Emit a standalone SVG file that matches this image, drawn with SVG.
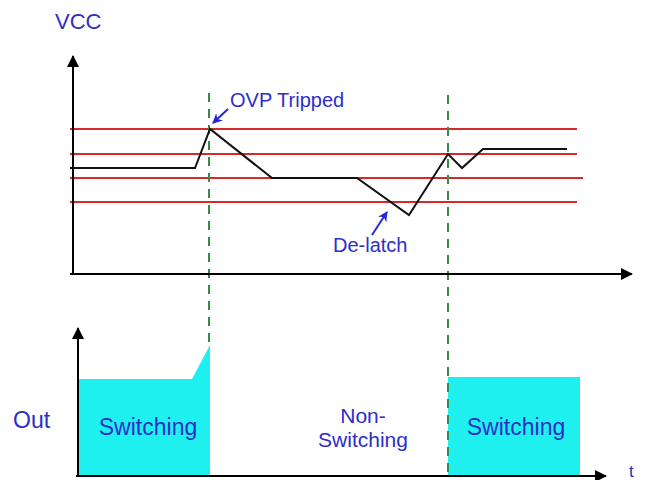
<svg xmlns="http://www.w3.org/2000/svg" width="654" height="480" viewBox="0 0 654 480">
<style>
.lbl{font-family:"Liberation Sans",Arial,sans-serif;fill:#2e2ec8}
.axis{stroke:#000;stroke-width:2;fill:none}
.lvl{stroke:#d62a2a;stroke-width:2}
.sig{stroke:#111;stroke-width:2;fill:none;stroke-linejoin:miter}
.dash{stroke:#3a8a45;stroke-width:2;stroke-dasharray:9,7;fill:none}
.fill{fill:#1ef0f0}
.ptr{stroke:#2828d0;stroke-width:2;fill:none}
</style>
<defs>
<marker id="bh" viewBox="0 0 10 10" refX="9" refY="5" markerWidth="10" markerHeight="10" orient="auto" markerUnits="userSpaceOnUse">
<path d="M0,0 L10,5 L0,10 L3,5 z" fill="#2828d0"/>
</marker>
<marker id="ax" viewBox="0 0 12 12" refX="11" refY="6" markerWidth="12" markerHeight="12" orient="auto" markerUnits="userSpaceOnUse">
<path d="M0,0 L12,6 L0,12 z" fill="#000"/>
</marker>
</defs>
<rect width="654" height="480" fill="#fff"/>

<g id="out-fill">
<polygon class="fill" points="78,379 192,379 210,345 210,476 78,476"/>
<rect class="fill" x="448" y="377" width="132" height="99"/>
</g>

<g id="levels">
<line class="lvl" x1="70" y1="129" x2="577" y2="129"/>
<line class="lvl" x1="70" y1="154" x2="577" y2="154"/>
<line class="lvl" x1="70" y1="178" x2="583" y2="178"/>
<line class="lvl" x1="70" y1="202" x2="577" y2="202"/>
</g>

<g id="markers">
<line class="dash" x1="209" y1="93" x2="209" y2="345"/>
<line class="dash" x1="448" y1="95" x2="448" y2="476"/>
</g>

<g id="vcc-signal">
<polyline class="sig" points="70,168 195,168 210,129 272,178 357,178 409,215 448,154 462,168 483,149 567,149"/>
</g>

<g id="axes">
<line class="axis" x1="73" y1="274" x2="73" y2="56" marker-end="url(#ax)"/>
<line class="axis" x1="70" y1="274" x2="632" y2="274" marker-end="url(#ax)"/>
<line class="axis" x1="78" y1="476" x2="78" y2="328" marker-end="url(#ax)"/>
<line class="axis" x1="76" y1="476" x2="606" y2="476" marker-end="url(#ax)"/>
</g>

<g id="connectors">
<line class="ptr" x1="228" y1="109" x2="213" y2="123" marker-end="url(#bh)"/>
<line class="ptr" x1="372" y1="235" x2="387" y2="212" marker-end="url(#bh)"/>
</g>

<g id="labels">
<text class="lbl" x="55" y="29" font-size="22">VCC</text>
<text class="lbl" x="230" y="107" font-size="20">OVP Tripped</text>
<text class="lbl" x="333" y="252" font-size="20">De-latch</text>
<text class="lbl" x="13" y="428" font-size="23">Out</text>
<text class="lbl" x="148" y="435" font-size="23" text-anchor="middle">Switching</text>
<text class="lbl" x="363" y="423" font-size="21" text-anchor="middle">Non-</text>
<text class="lbl" x="363" y="447" font-size="21" text-anchor="middle">Switching</text>
<text class="lbl" x="516" y="435" font-size="23" text-anchor="middle">Switching</text>
<text class="lbl" x="629" y="477" font-size="17">t</text>
</g>
</svg>
